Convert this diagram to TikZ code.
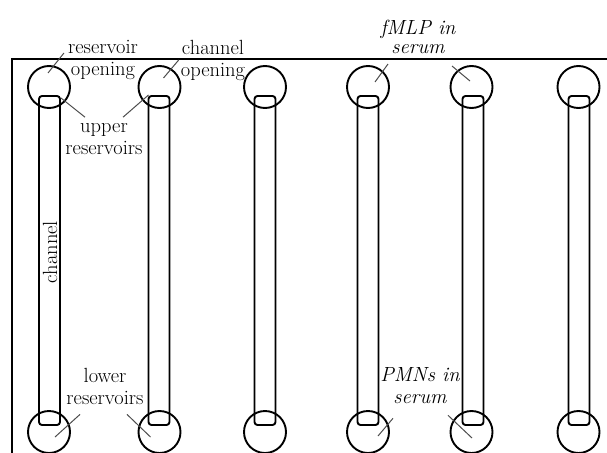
\documentclass[tikz,border=0pt]{standalone}
\usepackage{fontspec}
\usetikzlibrary{
    calc,
    positioning
}
\tikzset{
    res/.style={draw, circle, line width=1.9pt, minimum size=42pt, inner sep=0pt},
    chan/.style={draw, rectangle, rounded corners=3pt, line width=1.9pt,
        minimum width=21pt, minimum height=329pt, inner sep=0pt},
    lbl/.style={align=center, inner sep=0pt, font=\fontsize{20.5}{22}\selectfont},
    leader/.style={line width=1pt, black!70}
}

\begin{document}
\begin{tikzpicture}[x=1pt, y=-1pt]
    \useasboundingbox (0, 0) rectangle (607, 452);
    \clip (0, 0) rectangle (607, 452);

    % chip outline
    \draw[line width=1.9pt] (12, 470) |- (620, 59);

    % channels
    \node[chan] (ch1) at (49.5, 260.5) {};
    \node[chan] (ch2) at (159, 260.5) {};
    \node[chan] (ch3) at (265, 260.5) {};
    \node[chan] (ch4) at (368, 260.5) {};
    \node[chan] (ch5) at (473, 260.5) {};
    \node[chan] (ch6) at (579, 260.5) {};

    % upper reservoirs
    \node[res] (up1) at (49, 87) {};
    \node[res] (up2) at (159.5, 87) {};
    \node[res] (up3) at (265, 87) {};
    \node[res] (up4) at (368, 87) {};
    \node[res] (up5) at (471.5, 87) {};
    \node[res] (up6) at (578.5, 87) {};

    % lower reservoirs
    \node[res] (lo1) at (49, 432) {};
    \node[res] (lo2) at (159.5, 432) {};
    \node[res] (lo3) at (265, 432) {};
    \node[res] (lo4) at (368, 432) {};
    \node[res] (lo5) at (471.5, 432) {};
    \node[res] (lo6) at (578.5, 432) {};

    % labels
    \node[lbl] (resop) at (103, 60) {reservoir\\opening};
    \node[lbl] (chop) at (213, 60) {channel\\opening};
    \node[lbl] (upres) at (104, 139) {upper\\reservoirs};
    \node[lbl] (lores) at (105, 386) {lower\\reservoirs};
    \node[lbl, font=\fontsize{20.5}{19}\selectfont\itshape] (fmlp) at (418, 37) {fMLP in\\serum};
    \node[lbl, font=\fontsize{20.5}{22}\selectfont\itshape] (pmns) at (420, 386) {PMNs in\\serum};
    \node[lbl, rotate=90] (chlbl) at (50, 252) {channel};

    \draw[leader]
    ($(resop.west)+(-4, -7)$) -- ($(up1)+(-1, -14)$)
    ($(chop.west)+(-2, 0)$) -- ($(up2)+(4, -9)$)
    ($(upres.north)+(-19, -6)$) -- ($(up1)+(12, 11)$)
    ($(upres.north)+(19, -6)$) -- ($(up2)+(-11, 8)$)
    ($(fmlp.south)+(-30, 10)$) -- ($(up4)+(7, -5)$)
    ($(fmlp.south)+(34, 12)$) -- ($(up5)+(-1.5, -6)$)
    ($(lores.south)+(-25, 10)$) -- ($(lo1)+(6, 5)$)
    ($(lores.south)+(22, 10)$) -- ($(lo2)+(-9, 5)$)
    ($(pmns.south)+(-27, 14)$) -- ($(lo4)+(10, 4)$)
    ($(pmns.south)+(28, 11)$) -- ($(lo5)+(0.5, 6)$);
\end{tikzpicture}
\end{document}
